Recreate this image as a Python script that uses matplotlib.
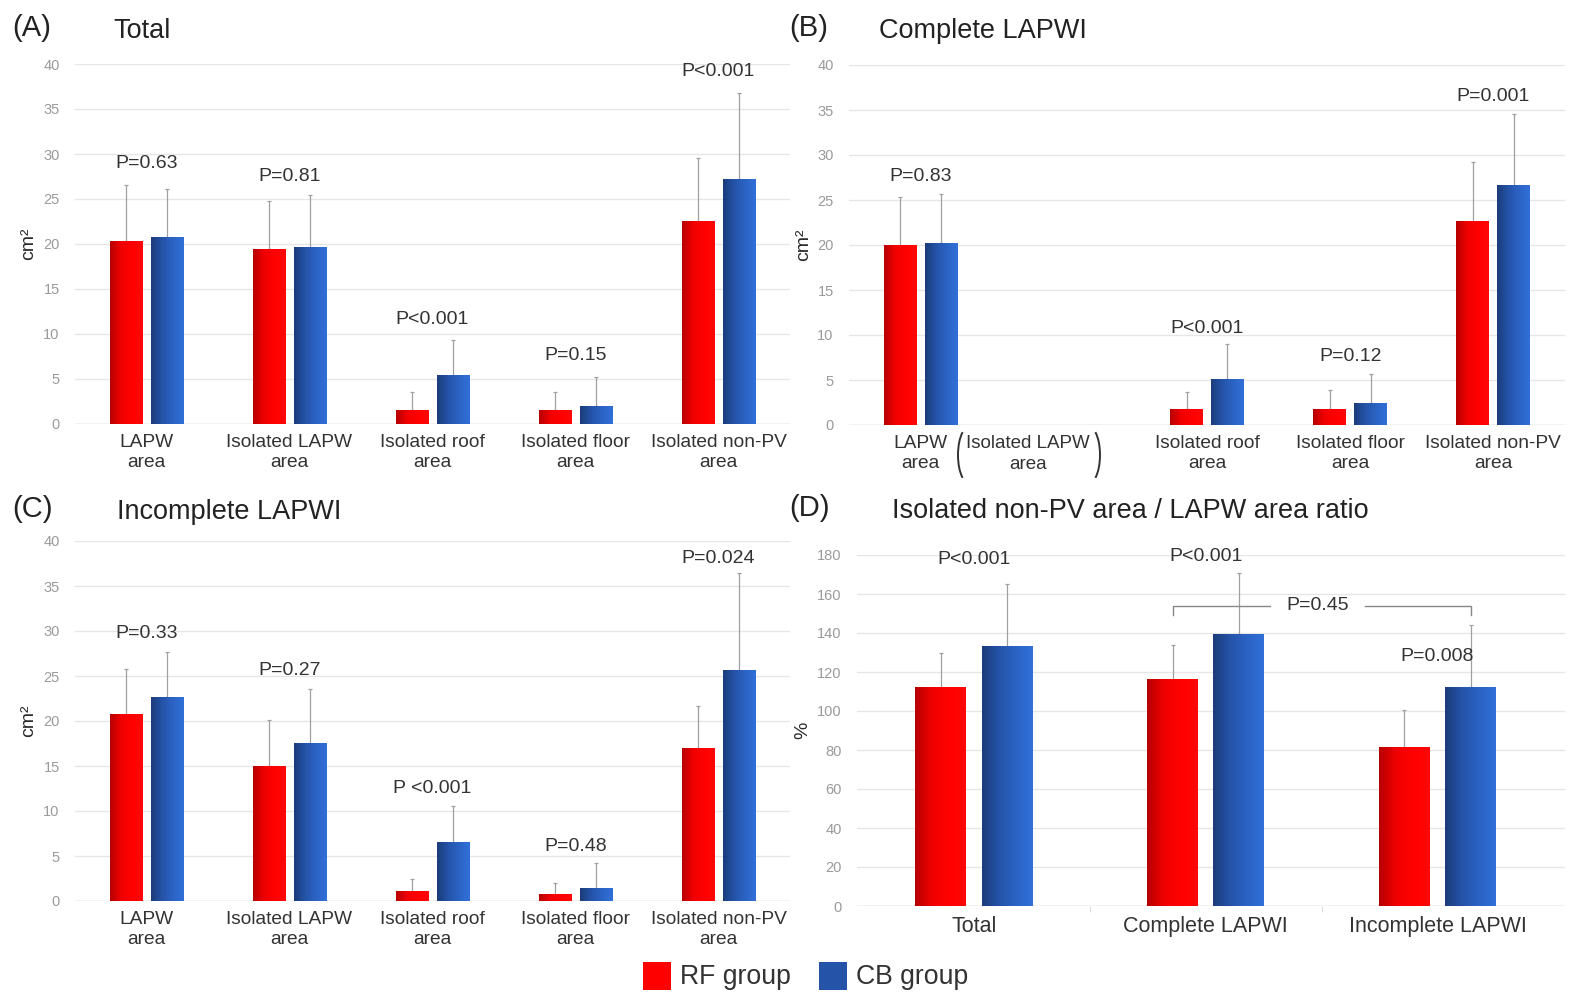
import numpy as np
import matplotlib
matplotlib.use('Agg')
import matplotlib.pyplot as plt
from matplotlib.colors import LinearSegmentedColormap
from matplotlib.patches import Rectangle, Arc

plt.rcParams['font.family'] = ['Liberation Sans', 'DejaVu Sans']

W, H = 1569, 993

# ---- data (means and upper SD) ----
area_labels = ['LAPW\narea', 'Isolated LAPW\narea', 'Isolated roof\narea',
               'Isolated floor\narea', 'Isolated non-PV\narea']

a_rf = [20.3, 19.4, 1.55, 1.55, 22.5]
a_rf_sd = [6.2, 5.4, 1.95, 2.05, 7.0]
a_cb = [20.7, 19.6, 5.35, 2.0, 27.2]
a_cb_sd = [5.4, 5.8, 3.95, 3.25, 9.6]
a_p = ['P=0.63', 'P=0.81', 'P<0.001', 'P=0.15', 'P<0.001']
a_p_y = [28.9, 27.5, 11.6, 7.6, 39.2]

b_rf = [19.9, np.nan, 1.74, 1.74, 22.6]
b_rf_sd = [5.4, np.nan, 1.96, 2.16, 6.6]
b_cb = [20.2, np.nan, 5.1, 2.4, 26.6]
b_cb_sd = [5.5, np.nan, 3.9, 3.3, 8.0]
b_p = ['P=0.83', '', 'P<0.001', 'P=0.12', 'P=0.001']
b_p_y = [27.6, 0, 10.7, 7.6, 36.5]

c_rf = [20.7, 15.0, 1.04, 0.67, 16.9]
c_rf_sd = [5.1, 5.1, 1.46, 1.29, 4.8]
c_cb = [22.6, 17.5, 6.5, 1.37, 25.6]
c_cb_sd = [5.1, 6.1, 4.1, 2.83, 10.9]
c_p = ['P=0.33', 'P=0.27', 'P <0.001', 'P=0.48', 'P=0.024']
c_p_y = [29.7, 25.6, 12.5, 6.1, 38.1]

ratio_labels = ['Total', 'Complete LAPWI', 'Incomplete LAPWI']
d_rf = [112, 116, 81.3]
d_rf_sd = [18, 18, 19]
d_cb = [133, 139, 112.3]
d_cb_sd = [32, 32, 31.9]
d_p = ['P<0.001', 'P<0.001', 'P=0.008']
d_p_y = [177.5, 179.4, 127.7]
d_between_p = 'P=0.45'

red_cmap = LinearSegmentedColormap.from_list('r', ['#b80000', '#f00000', '#ff0000', '#ff0808'])
blue_cmap = LinearSegmentedColormap.from_list('b', ['#1b3c7a', '#2553a8', '#2b63c4', '#3070d8'])

fig = plt.figure(figsize=(W / 100, H / 100), dpi=100)


def px_axes(x0, x1, y_top, y_bot):
    return fig.add_axes([x0 / W, 1 - y_bot / H, (x1 - x0) / W, (y_bot - y_top) / H])


def grad_bars(ax, bars, cmap):
    grad = np.linspace(0, 1, 64).reshape(1, -1)
    for b in bars:
        h = b.get_height()
        if np.isnan(h) or h <= 0:
            continue
        x0, y0 = b.get_xy()
        ax.imshow(grad, extent=(x0, x0 + b.get_width(), y0, y0 + h), cmap=cmap,
                  aspect='auto', zorder=2, interpolation='bicubic')


def draw_panel(ax, rf, rf_sd, cb, cb_sd, labels, xlim, ylim, yticks, width, off):
    x = np.arange(len(rf))
    b1 = ax.bar(x - off, rf, width, color='#f00000', zorder=2)
    b2 = ax.bar(x + off, cb, width, color='#2553a8', zorder=2)
    grad_bars(ax, b1, red_cmap)
    grad_bars(ax, b2, blue_cmap)
    z = np.zeros(len(rf))
    ax.errorbar(x - off, rf, yerr=[z, rf_sd], fmt='none', ecolor='#a0a0a0',
                elinewidth=0.9, capsize=1.5, capthick=0.9, zorder=1)
    ax.errorbar(x + off, cb, yerr=[z, cb_sd], fmt='none', ecolor='#a0a0a0',
                elinewidth=0.9, capsize=1.5, capthick=0.9, zorder=1)
    ax.set_xlim(*xlim)
    ax.set_ylim(*ylim)
    ax.set_yticks(yticks)
    ax.set_xticks(x)
    ax.set_xticklabels(labels, fontsize=13.8, color='#333333', linespacing=1.25)
    ax.yaxis.grid(True, color='#e6e6e6', lw=1.0, zorder=0)
    ax.set_axisbelow(True)
    for s in ax.spines.values():
        s.set_visible(False)
    ax.axhline(0, color='#d4d4d4', lw=1.0, zorder=1)
    ax.tick_params(axis='y', length=0, pad=11, labelsize=10.5, labelcolor='#9a9a9a')
    ax.tick_params(axis='x', length=0, pad=7)
    return x


def p_labels(ax, x, texts, ys):
    for xi, t, y in zip(x, texts, ys):
        if t:
            ax.text(xi, y, t, ha='center', va='center', fontsize=14, color='#333333')


def title(x, y, letter, txt, tx):
    fig.text(x / W, 1 - (y - 2) / H, letter, fontsize=21, color='#222222', va='center', ha='left')
    fig.text(tx / W, 1 - (y + 1) / H, txt, fontsize=19.5, color='#222222', va='center', ha='left')


area_ticks = np.arange(0, 41, 5)

# (A)
axA = px_axes(75, 790, 64, 424)
xA = draw_panel(axA, a_rf, a_rf_sd, a_cb, a_cb_sd, area_labels, (-0.5, 4.5), (0, 40),
                area_ticks, 0.23, 0.143)
p_labels(axA, xA, a_p, a_p_y)
axA.set_ylabel('cm²', fontsize=14, color='#2a2a2a')
axA.yaxis.set_label_coords(-0.053, 0.5)
title(12, 30, '(A)', 'Total', 113)

# (B)
axB = px_axes(849, 1565, 65, 425)
b_labels = list(area_labels)
b_labels[1] = ''
xB = draw_panel(axB, b_rf, b_rf_sd, b_cb, b_cb_sd, b_labels, (-0.5, 4.5), (0, 40),
                area_ticks, 0.23, 0.143)
p_labels(axB, xB, b_p, b_p_y)
axB.set_ylabel('cm²', fontsize=14, color='#2a2a2a')
axB.yaxis.set_label_coords(-0.052, 0.5)
fig.text(1028 / W, 1 - 454 / H, 'Isolated LAPW\narea', fontsize=13.5, color='#333333',
         ha='center', va='center', linespacing=1.25)
# large round brackets around the empty category label
for cx, t1, t2 in [(969, 100, 260), (1089, -80, 80)]:
    fig.add_artist(Arc((cx / W, 1 - 455 / H), 22 / W, 56 / H, theta1=t1, theta2=t2,
                       transform=fig.transFigure, color='#333333', lw=1.4))
title(789, 30, '(B)', 'Complete LAPWI', 879)

# (C)
axC = px_axes(75, 790, 541, 901)
xC = draw_panel(axC, c_rf, c_rf_sd, c_cb, c_cb_sd, area_labels, (-0.5, 4.5), (0, 40),
                area_ticks, 0.23, 0.143)
p_labels(axC, xC, c_p, c_p_y)
axC.set_ylabel('cm²', fontsize=14, color='#2a2a2a')
axC.yaxis.set_label_coords(-0.053, 0.5)
title(12, 511, '(C)', 'Incomplete LAPWI', 117)

# (D)
axD = px_axes(857, 1565, 555, 906)
xD = draw_panel(axD, d_rf, d_rf_sd, d_cb, d_cb_sd, ratio_labels, (-0.505, 2.55), (0, 180),
                np.arange(0, 181, 20), 0.22, 0.143)
axD.set_xticklabels(ratio_labels, fontsize=15.5, color='#333333')
axD.tick_params(axis='x', pad=7)
p_labels(axD, xD, d_p, d_p_y)
axD.set_ylabel('%', fontsize=14, color='#2a2a2a')
axD.yaxis.set_label_coords(-0.064, 0.5)
axD.set_xticks([0.5, 1.5], minor=True)
axD.tick_params(axis='x', which='minor', length=4, color='#d4d4d4', direction='out')
# bracket between complete RF and incomplete CB
bx0, bx1, by = xD[1] - 0.143, xD[2] + 0.143, 154
axD.plot([bx0, bx0, 1.279], [149, by, by], color='#888888', lw=1.0, zorder=3)
axD.plot([1.689, bx1, bx1], [by, by, 149], color='#888888', lw=1.0, zorder=3)
axD.text(1.484, by, d_between_p, ha='center', va='center', fontsize=14, color='#333333')
title(789, 510, '(D)', 'Isolated non-PV area / LAPW area ratio', 892)

# legend
for x0, col, lab in [(643, '#ff0000', 'RF group'), (819, '#2553a8', 'CB group')]:
    fig.add_artist(Rectangle((x0 / W, 1 - 990 / H), 28 / W, 28 / H, transform=fig.transFigure,
                             facecolor=col, edgecolor='none'))
    fig.text((x0 + 37) / W, 1 - 977 / H, lab, fontsize=19.2, color='#333333', va='center', ha='left')

fig.savefig('out.png', dpi=100, facecolor='white')
